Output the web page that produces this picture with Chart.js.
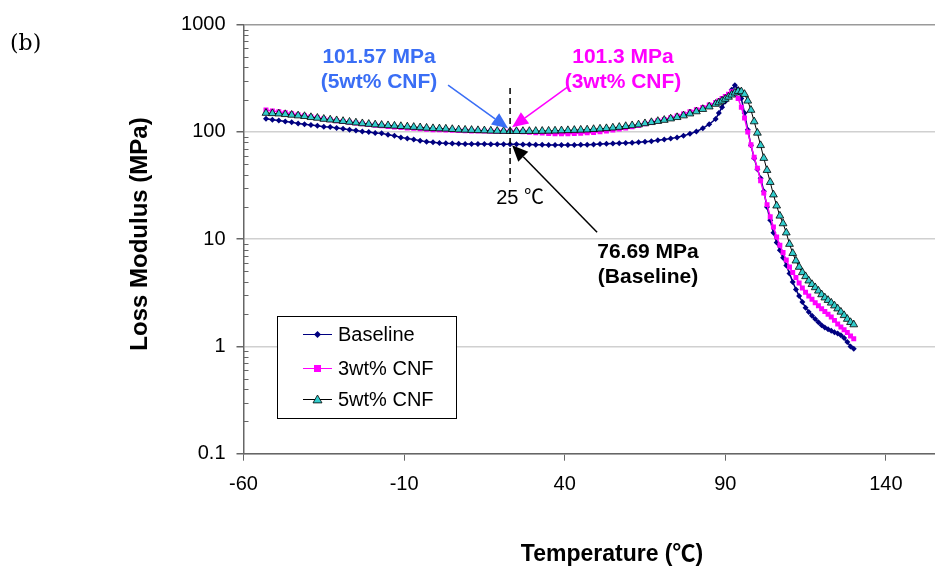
<!DOCTYPE html>
<html>
<head>
<meta charset="utf-8">
<script src="https://cdn.jsdelivr.net/npm/chart.js@4.4.1/dist/chart.umd.min.js"></script>
<style>
  html, body { margin: 0; padding: 0; background: #fff; }
  #wrap { width: 935px; height: 571px; }
</style>
</head>
<body>
<div id="wrap"><canvas id="chart" width="935" height="571"></canvas></div>
<script>
// temperature (°C) and loss modulus (MPa)
const temps = [
  -53, -51, -49, -47, -45, -43, -41, -39, -37, -35,
  -33, -31, -29, -27, -25, -23, -21, -19, -17, -15,
  -13, -11, -9, -7, -5, -3, -1, 1, 3, 5,
  7, 9, 11, 13, 15, 17, 19, 21, 23, 25,
  27, 29, 31, 33, 35, 37, 39, 41, 43, 45,
  47, 49, 51, 53, 55, 57, 59, 61, 63, 65,
  67, 69, 71, 73, 75, 77, 79, 81, 83, 85, 87,
  88, 89, 90, 91, 92, 93, 94, 95, 96, 97,
  98, 99, 100, 101, 102, 103, 104, 105, 106, 107,
  108, 109, 110, 111, 112, 113, 114, 115, 116, 117,
  118, 119, 120, 121, 122, 123, 124, 125, 126, 127,
  128, 129, 130
];

const baseline = [
  133, 130, 128, 125, 123, 120, 118, 116, 114, 112,
  111, 109, 107, 105, 103, 101, 100, 98, 97, 94,
  92, 89, 87, 85, 83, 81, 80, 79, 78.3, 78,
  77.7, 77.4, 77.2, 77, 77, 76.8, 76.7, 76.7, 76.7, 76.69,
  76.5, 76.3, 76, 75.8, 75.6, 75.5, 75.5, 75.5, 75.6, 75.8,
  76, 76.5, 77, 77.5, 78, 78.5, 79, 79.5, 80, 81,
  82, 83.5, 85, 87, 89, 92, 96, 101, 108, 118, 132,
  150, 170, 192, 218, 247, 272, 250, 205, 150, 105,
  75, 57, 45, 37, 28, 20, 15, 11.5, 9.3, 7.9,
  6.7, 5.7, 4.8, 4.0, 3.4, 2.95, 2.6, 2.3, 2.1, 1.93,
  1.8, 1.68, 1.58, 1.5, 1.45, 1.4, 1.36, 1.32, 1.27, 1.2,
  1.1, 1.0, 0.95
];

const cnf3 = [
  160, 157, 154, 151, 148, 145, 142, 139, 136, 133,
  130, 127, 125, 123, 121, 119, 117, 115.5, 114, 112.5,
  111, 110, 109, 108, 107, 106, 105, 104.5, 104, 103.5,
  103, 102.5, 102, 101.9, 101.8, 101.5, 101.4, 101.3, 101.3, 101.3,
  100.5, 99.5, 98.5, 97.5, 96.5, 96, 96, 96, 96.5, 97,
  98, 99, 100.5, 102, 104, 106.5, 109, 112, 115, 119,
  123, 127, 131, 136, 141, 147, 154, 161, 169, 178, 188,
  196, 205, 214, 225, 237, 230, 205, 170, 135, 100,
  76, 58, 46, 35, 27, 21, 16.2, 13, 10.5, 8.8,
  7.5, 6.4, 5.5, 4.9, 4.4, 3.9, 3.5, 3.2, 2.95, 2.75,
  2.55, 2.4, 2.25, 2.12, 2.0, 1.88, 1.75, 1.62, 1.52, 1.43,
  1.35, 1.25, 1.18
];

const cnf5 = [
  150, 149, 148, 146, 144, 142, 140, 137, 135, 132,
  130, 128, 126, 124, 122, 120, 118.5, 117, 116, 115,
  114, 113, 112, 111, 110, 109, 108, 107.5, 107, 106,
  105, 104.5, 104, 103.5, 103, 102.5, 102, 101.8, 101.6, 101.57,
  101.6, 101.7, 101.8, 102, 102.3, 102.6, 103, 103.5, 104, 104.5,
  105, 106, 107, 108, 109.5, 111, 113, 115, 117, 120,
  123, 126, 129, 133, 137, 142, 148, 155, 163, 172, 182,
  188, 195, 203, 212, 222, 232, 240, 238, 225, 195,
  160, 125, 98, 75, 57, 44, 34, 26, 20.5, 16.5,
  14, 11.5, 9, 7.4, 6.3, 5.5, 4.9, 4.5, 4.1, 3.8,
  3.55, 3.3, 3.05, 2.85, 2.7, 2.55, 2.4, 2.25, 2.1, 1.95,
  1.8, 1.68, 1.6
];

const seriesLabels = ['Baseline', '3wt% CNF', '5wt% CNF'];
const xTicks = [-60, -10, 40, 90, 140];
const yTicks = [0.1, 1, 10, 100, 1000];
const yTickLabels = ['0.1', '1', '10', '100', '1000'];

// the dashed 25 ℃ marker and the values called out there
const markTemp = 23;
const markLabel = '25 ℃';
const markValues = [76.69, 101.3, 101.57];

const SANS = "'Liberation Sans', Arial, 'Noto Sans CJK SC', sans-serif";
Chart.defaults.font.family = SANS;

const toPoints = (vals) => temps.map((t, i) => ({ x: t, y: vals[i] }));

/** minor log ticks on the inside of the y axis */
const minorTicks = {
    id: 'minorTicks',
    afterDraw(chart) {
        const { ctx, scales: { y }, chartArea } = chart;
        ctx.save();
        ctx.strokeStyle = '#666';
        ctx.lineWidth = 1;
        ctx.beginPath();
        for (let d = 0; d < yTicks.length - 1; d++) {
            for (let k = 2; k <= 9; k++) {
                const py = Math.round(y.getPixelForValue(yTicks[d] * k)) + 0.5;
                ctx.moveTo(chartArea.left, py);
                ctx.lineTo(chartArea.left + 5, py);
            }
        }
        ctx.stroke();
        ctx.restore();
    },
};

const drawMarker = (ctx, style, x, y, r, fill, stroke, lw) => {
    ctx.beginPath();
    if (style === 'rectRot') {
        ctx.moveTo(x, y - r); ctx.lineTo(x + r, y); ctx.lineTo(x, y + r); ctx.lineTo(x - r, y);
    } else if (style === 'rect') {
        ctx.rect(x - r, y - r, 2 * r, 2 * r);
    } else {
        ctx.moveTo(x, y - r); ctx.lineTo(x + r, y + r * 0.75); ctx.lineTo(x - r, y + r * 0.75);
    }
    ctx.closePath();
    ctx.fillStyle = fill;
    ctx.fill();
    if (lw) { ctx.strokeStyle = stroke; ctx.lineWidth = lw; ctx.stroke(); }
};

/** boxed legend inside the plot */
const boxLegend = {
    id: 'boxLegend',
    afterDatasetsDraw(chart) {
        const { ctx } = chart;
        const rowsY = [334, 368, 399];
        ctx.save();
        ctx.fillStyle = '#fff';
        ctx.fillRect(277.5, 316.5, 179, 102);
        ctx.strokeStyle = '#000';
        ctx.lineWidth = 1;
        ctx.strokeRect(277.5, 316.5, 179, 102);
        chart.data.datasets.forEach((ds, i) => {
            const ly = rowsY[i];
            ctx.strokeStyle = ds.borderColor;
            ctx.lineWidth = 1;
            ctx.beginPath();
            ctx.moveTo(303, ly + 0.5);
            ctx.lineTo(332, ly + 0.5);
            ctx.stroke();
            drawMarker(ctx, ds.pointStyle, 317.5, ly + 0.5, ds.pointStyle === 'triangle' ? 4.5 : 3.5,
                ds.pointBackgroundColor, ds.pointBorderColor, ds.pointStyle === 'triangle' ? 0.8 : 0);
            ctx.fillStyle = '#000';
            ctx.font = '20px ' + SANS;
            ctx.textAlign = 'left';
            ctx.textBaseline = 'middle';
            ctx.fillText(ds.label, 338, ly + 1);
        });
        ctx.restore();
    },
};

const arrow = (ctx, x0, y0, x1, y1, color) => {
    const ang = Math.atan2(y1 - y0, x1 - x0);
    const len = 16, half = 7;
    const bx = x1 - len * Math.cos(ang), by = y1 - len * Math.sin(ang);
    ctx.strokeStyle = color;
    ctx.fillStyle = color;
    ctx.lineWidth = 1.5;
    ctx.beginPath();
    ctx.moveTo(x0, y0);
    ctx.lineTo(bx, by);
    ctx.stroke();
    ctx.beginPath();
    ctx.moveTo(x1, y1);
    ctx.lineTo(bx + half * Math.sin(ang), by - half * Math.cos(ang));
    ctx.lineTo(bx - half * Math.sin(ang), by + half * Math.cos(ang));
    ctx.closePath();
    ctx.fill();
};

/** dashed 25 ℃ line, arrows and value call-outs, axis titles, panel tag */
const annotations = {
    id: 'annotations',
    afterDatasetsDraw(chart) {
        const { ctx, scales: { x, y } } = chart;
        const mx = x.getPixelForValue(markTemp);
        ctx.save();

        ctx.strokeStyle = '#000';
        ctx.lineWidth = 1.5;
        ctx.setLineDash([6, 4]);
        ctx.beginPath();
        ctx.moveTo(mx, 88);
        ctx.lineTo(mx, 182);
        ctx.stroke();
        ctx.setLineDash([]);

        ctx.fillStyle = '#000';
        ctx.font = '20px ' + SANS;
        ctx.textAlign = 'center';
        ctx.textBaseline = 'middle';
        ctx.fillText(markLabel, mx + 10, 198);

        const callouts = [
            { i: 2, color: '#3A6EF5', tx: 379, ty: 57, tip: [-2, -3], tail: [-60, -43] },
            { i: 1, color: '#FF00FF', tx: 623, ty: 57, tip: [2, -4], tail: [55, -40] },
            { i: 0, color: '#000000', tx: 648, ty: 252, tip: [2, 1], tail: [85, 87] },
        ];
        callouts.forEach((c) => {
            const px = mx + c.tip[0];
            const py = y.getPixelForValue(markValues[c.i]) + c.tip[1];
            arrow(ctx, px + c.tail[0], py + c.tail[1], px, py, c.color);
            ctx.fillStyle = c.color;
            ctx.font = 'bold 21px ' + SANS;
            ctx.fillText(markValues[c.i] + ' MPa', c.tx, c.ty);
            ctx.fillText('(' + seriesLabels[c.i] + ')', c.tx, c.ty + 25);
        });

        // axis titles
        ctx.fillStyle = '#000';
        ctx.font = 'bold 23px ' + SANS;
        ctx.textBaseline = 'alphabetic';
        ctx.fillText('Temperature (℃)', 612, 561);
        ctx.save();
        ctx.translate(147, 234);
        ctx.rotate(-Math.PI / 2);
        ctx.font = 'bold 24px ' + SANS;
        ctx.fillText('Loss Modulus (MPa)', 0, 0);
        ctx.restore();

        ctx.font = "22px 'DejaVu Serif', serif";
        ctx.textAlign = 'left';
        ctx.fillText('(b)', 10, 50);
        ctx.restore();
    },
};

new Chart(document.getElementById('chart'), {
    type: 'line',
    data: {
        datasets: [
            {
                label: seriesLabels[0],
                data: toPoints(baseline),
                borderColor: '#000080',
                borderWidth: 1.5,
                pointStyle: 'rectRot',
                pointRadius: 3,
                pointBackgroundColor: '#000080',
                pointBorderColor: '#000080',
                pointBorderWidth: 0,
                order: 3,
            },
            {
                label: seriesLabels[1],
                data: toPoints(cnf3),
                borderColor: '#FF00FF',
                borderWidth: 1.5,
                pointStyle: 'rect',
                pointRadius: 3.5,
                pointBackgroundColor: '#FF00FF',
                pointBorderColor: '#FF00FF',
                pointBorderWidth: 0,
                order: 2,
            },
            {
                label: seriesLabels[2],
                data: toPoints(cnf5),
                borderColor: '#000000',
                borderWidth: 1,
                pointStyle: 'triangle',
                pointRadius: 4.5,
                pointBackgroundColor: '#33CCCC',
                pointBorderColor: '#000000',
                pointBorderWidth: 0.8,
                order: 1,
            },
        ],
    },
    options: {
        responsive: false,
        animation: false,
        layout: { autoPadding: false, padding: { top: 24.7, right: 0, bottom: 0, left: 0 } },
        plugins: { legend: { display: false }, tooltip: { enabled: false } },
        elements: { line: { tension: 0 } },
        scales: {
            x: {
                type: 'linear',
                min: -60,
                max: 155.3,
                afterBuildTicks: (s) => { s.ticks = xTicks.map((v) => ({ value: v })); },
                afterFit: (s) => { s.height = 117.3; s.paddingLeft = 0; s.paddingRight = 0; },
                grid: { drawOnChartArea: false, tickLength: 7, tickColor: '#666' },
                border: { color: '#666', width: 1.5 },
                ticks: {
                    color: '#000',
                    font: { size: 20 },
                    padding: 12,
                    maxRotation: 0,
                    callback: (v) => String(v),
                },
            },
            y: {
                type: 'logarithmic',
                min: 0.1,
                max: 1000,
                afterBuildTicks: (s) => { s.ticks = yTicks.map((v) => ({ value: v })); },
                afterFit: (s) => { s.width = 243.5; },
                grid: {
                    tickLength: 7,
                    tickColor: '#666',
                    color: (ctx) => (ctx.tick && ctx.tick.value === 1000 ? '#9a9a9a' : '#d0d0d0'),
                    lineWidth: 1.5,
                },
                border: { color: '#666', width: 1.5 },
                ticks: {
                    color: '#000',
                    font: { size: 20 },
                    padding: 11,
                    callback: (v, i) => yTickLabels[i],
                },
            },
        },
    },
    plugins: [minorTicks, boxLegend, annotations],
});
</script>
</body>
</html>
